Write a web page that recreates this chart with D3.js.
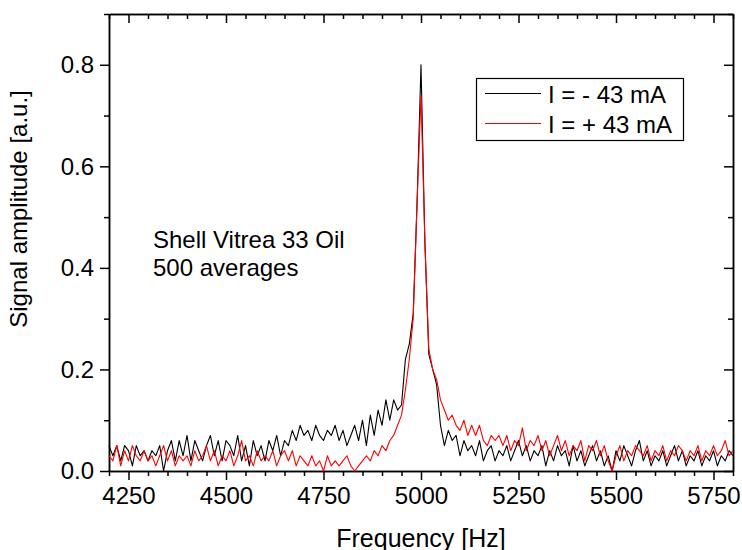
<!DOCTYPE html>
<html>
<head>
<meta charset="utf-8">
<script src="https://cdn.jsdelivr.net/npm/d3@7"></script>
<style>
  body { margin: 0; background: #fff; }
  svg { font-family: Arial, "Liberation Sans", sans-serif; }
  .axis path, .axis line { stroke: #000; stroke-width: 1.5; }
  .axis text { font-size: 24px; fill: #000; }
</style>
</head>
<body>
<svg width="742" height="550"></svg>
<script>
// frequency grid, 10 Hz steps from 4200 to 5800 Hz
var freqStart = 4200, freqStep = 10;

// I = -43 mA (black)
var negCurrent = [
  0.05, 0.03, 0.05, 0.02, 0.05, 0.04, 0.01, 0.05, 0.03, 0.04,
  0.02, 0.04, 0.03, 0.05, 0.00, 0.04, 0.06, 0.02, 0.06, 0.03,
  0.07, 0.02, 0.06, 0.04, 0.02, 0.05, 0.07, 0.03, 0.06, 0.02,
  0.06, 0.05, 0.03, 0.07, 0.02, 0.05, 0.01, 0.06, 0.03, 0.05,
  0.02, 0.06, 0.04, 0.07, 0.03, 0.06, 0.05, 0.08, 0.06, 0.09,
  0.07, 0.08, 0.06, 0.09, 0.07, 0.06, 0.08, 0.07, 0.09, 0.06,
  0.08, 0.05, 0.07, 0.09, 0.06, 0.10, 0.05, 0.11, 0.07, 0.12,
  0.09, 0.14, 0.10, 0.14, 0.12, 0.13, 0.22, 0.25, 0.31, 0.53,
  0.80, 0.45, 0.23, 0.20, 0.17, 0.09, 0.05, 0.08, 0.06, 0.07,
  0.03, 0.06, 0.04, 0.05, 0.03, 0.06, 0.02, 0.04, 0.05, 0.02,
  0.04, 0.03, 0.05, 0.02, 0.04, 0.06, 0.03, 0.05, 0.02, 0.04,
  0.03, 0.05, 0.01, 0.04, 0.02, 0.05, 0.03, 0.04, 0.01, 0.05,
  0.02, 0.04, 0.01, 0.03, 0.05, 0.02, 0.04, 0.01, 0.03, 0.00,
  0.04, 0.02, 0.05, 0.03, 0.01, 0.04, 0.06, 0.02, 0.04, 0.01,
  0.03, 0.02, 0.04, 0.01, 0.03, 0.05, 0.02, 0.04, 0.01, 0.03,
  0.02, 0.04, 0.01, 0.03, 0.02, 0.04, 0.01, 0.03, 0.02, 0.04,
  0.03
];

// I = +43 mA (red)
var posCurrent = [
  0.03, 0.02, 0.05, 0.01, 0.04, 0.02, 0.05, 0.03, 0.02, 0.04,
  0.02, 0.03, 0.01, 0.03, 0.05, 0.02, 0.04, 0.01, 0.03, 0.02,
  0.03, 0.01, 0.04, 0.02, 0.03, 0.05, 0.02, 0.04, 0.01, 0.03,
  0.02, 0.04, 0.01, 0.03, 0.06, 0.02, 0.03, 0.01, 0.04, 0.02,
  0.03, 0.02, 0.04, 0.01, 0.03, 0.04, 0.02, 0.04, 0.01, 0.03,
  0.02, 0.01, 0.03, 0.01, 0.02, 0.00, 0.03, 0.01, 0.02, 0.01,
  0.02, 0.03, 0.01, 0.00, 0.01, 0.02, 0.03, 0.02, 0.04, 0.03,
  0.05, 0.04, 0.06, 0.07, 0.09, 0.11, 0.16, 0.22, 0.30, 0.53,
  0.74, 0.45, 0.24, 0.20, 0.18, 0.14, 0.12, 0.10, 0.11, 0.09,
  0.08, 0.10, 0.07, 0.09, 0.07, 0.09, 0.06, 0.05, 0.07, 0.06,
  0.07, 0.05, 0.07, 0.04, 0.06, 0.05, 0.085, 0.04, 0.06, 0.05,
  0.07, 0.04, 0.06, 0.03, 0.05, 0.07, 0.04, 0.06, 0.03, 0.05,
  0.04, 0.06, 0.02, 0.05, 0.04, 0.06, 0.03, 0.05, 0.02, 0.00,
  0.03, 0.05, 0.02, 0.04, 0.03, 0.05, 0.04, 0.03, 0.05, 0.02,
  0.04, 0.03, 0.05, 0.02, 0.04, 0.03, 0.05, 0.04, 0.02, 0.04,
  0.03, 0.05, 0.02, 0.04, 0.03, 0.05, 0.03, 0.04, 0.06, 0.03,
  0.04
];

var xTicks = [4250, 4500, 4750, 5000, 5250, 5500, 5750];
var yTicks = [0.0, 0.2, 0.4, 0.6, 0.8];
var seriesNames = ["I = - 43 mA", "I = + 43 mA"];
var seriesColors = ["#000000", "#ff0000"];
var noteLines = ["Shell Vitrea 33 Oil", "500 averages"];

var svg = d3.select("svg");
var plotLeft = 109, plotRight = 733, plotTop = 14, plotBottom = 471;

var xScale = d3.scaleLinear().domain([4200, 5800]).range([plotLeft, plotRight]);
var yScale = d3.scaleLinear().domain([0, 0.9]).range([plotBottom, plotTop]);

var xMinor = d3.range(4200, 5801, 50).filter(function (d) { return d % 250 != 0; });
var yMinor = [0.1, 0.3, 0.5, 0.7, 0.9];

// bottom axis
svg.append("g").attr("class", "axis").attr("transform", "translate(0," + plotBottom + ")")
  .call(d3.axisBottom(xScale).tickValues(xMinor).tickSize(5).tickSizeOuter(0).tickFormat(""));
svg.append("g").attr("class", "axis").attr("transform", "translate(0," + plotBottom + ")")
  .call(d3.axisBottom(xScale).tickValues(xTicks).tickSize(9).tickSizeOuter(0).tickPadding(7).tickFormat(d3.format("d")));

// top axis, ticks inward
svg.append("g").attr("class", "axis").attr("transform", "translate(0," + plotTop + ")")
  .call(d3.axisTop(xScale).tickValues(xMinor).tickSize(-5).tickSizeOuter(0).tickFormat(""));
svg.append("g").attr("class", "axis").attr("transform", "translate(0," + plotTop + ")")
  .call(d3.axisTop(xScale).tickValues(xTicks).tickSize(-9).tickSizeOuter(0).tickFormat(""));

// left axis
svg.append("g").attr("class", "axis").attr("transform", "translate(" + plotLeft + ",0)")
  .call(d3.axisLeft(yScale).tickValues(yMinor).tickSize(5).tickSizeOuter(0).tickFormat(""));
svg.append("g").attr("class", "axis").attr("transform", "translate(" + plotLeft + ",0)")
  .call(d3.axisLeft(yScale).tickValues(yTicks).tickSize(9).tickSizeOuter(0).tickPadding(6).tickFormat(d3.format(".1f")));

// right axis, ticks inward
svg.append("g").attr("class", "axis").attr("transform", "translate(" + plotRight + ",0)")
  .call(d3.axisRight(yScale).tickValues(yMinor).tickSize(-5).tickSizeOuter(0).tickFormat(""));
svg.append("g").attr("class", "axis").attr("transform", "translate(" + plotRight + ",0)")
  .call(d3.axisRight(yScale).tickValues(yTicks).tickSize(-9).tickSizeOuter(0).tickFormat(""));

// curves
var line = d3.line()
  .x(function (d, i) { return xScale(freqStart + i * freqStep); })
  .y(function (d) { return yScale(d); });

[negCurrent, posCurrent].forEach(function (s, k) {
  svg.append("path").attr("d", line(s)).attr("fill", "none")
    .attr("stroke", seriesColors[k]).attr("stroke-width", 1.1).attr("stroke-linejoin", "round");
});

// axis titles
svg.append("text").attr("x", (plotLeft + plotRight) / 2).attr("y", 547).attr("text-anchor", "middle")
  .style("font-size", "25px").text("Frequency [Hz]");
svg.append("text").attr("transform", "translate(27,209) rotate(-90)")
  .attr("text-anchor", "middle").style("font-size", "24px").text("Signal amplitude [a.u.]");

// annotation
noteLines.forEach(function (t, i) {
  svg.append("text").attr("x", 153).attr("y", 248 + i * 28).style("font-size", "24px").text(t);
});

// legend
var lg = svg.append("g");
lg.append("rect").attr("x", 476.5).attr("y", 78.5).attr("width", 207).attr("height", 62)
  .attr("fill", "#fff").attr("stroke", "#000").attr("stroke-width", 1.2);
seriesNames.forEach(function (name, i) {
  var y = 93.5 + i * 30;
  lg.append("line").attr("x1", 485).attr("x2", 541).attr("y1", y).attr("y2", y)
    .attr("stroke", seriesColors[i]).attr("stroke-width", 1.1);
  lg.append("text").attr("x", 548).attr("y", y + 9).style("font-size", "24px").text(name);
});
</script>
</body>
</html>
